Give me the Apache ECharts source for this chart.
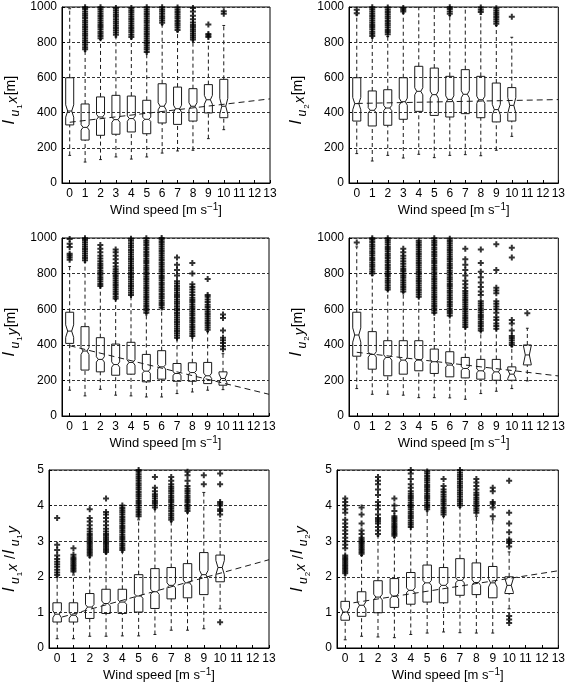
<!DOCTYPE html>
<html><head><meta charset="utf-8">
<script src="https://cdn.jsdelivr.net/npm/echarts@6/dist/echarts.min.js"></script>
<style>html,body{margin:0;padding:0;background:#fff}#c{width:568px;height:685px}</style>
</head><body><div id="c"></div>
<script>
// ---------- data ----------
const WIND_TICKS = [0,1,2,3,4,5,6,7,8,9,10,11,12,13];
const CATS_A = [0,1,2,3,4,5,6,7,8,9,10];
const CATS_B = [0,1,2,3,4,5,6,7,8,9,10,11];

// Panel 1: l_u1 x [m]
const P1_LOW   = [157,119,133,148,136,148,170,182,186,252,303];
const P1_Q1    = [330,244,271,277,290,280,341,333,352,398,371];
const P1_MED   = [409,316,375,360,366,362,436,422,436,473,436];
const P1_Q3    = [598,449,489,498,494,470,564,545,536,559,589];
const P1_HIGH  = [990,750,815,830,820,740,900,860,808,800,895];
const P1_NOTCH = [35,15,15,15,15,12,20,20,20,25,45];
const P1_OUT = [
  [],
  [760,772,785,798,810,823,836,848,861,874,886,899,912,924,937,950,962,975,988,998],
  [822,835,848,860,873,886,898,911,924,936,949,962,974,987,998],
  [842,855,868,880,893,906,918,931,944,956,969,982,994],
  [830,843,856,868,881,894,906,919,932,944,957,970,982,995],
  [745,758,770,783,796,808,821,834,846,859,872,884,897,910,922,935,948,960,973,986,998],
  [910,923,936,948,961,974,986,998],
  [870,883,896,908,921,934,946,959,972,984,997],
  [815,826,838,850,862,874,886,898,912,930,950,975,995],
  [830,838,846,900],
  [962,976]
];
const P1_FIT = [[0,345],[13,478]];

// Panel 2: l_u2 x [m]
const P2_LOW   = [167,125,157,142,163,144,157,161,155,186,265];
const P2_Q1    = [352,324,328,362,407,384,375,394,371,347,352];
const P2_MED   = [451,413,426,462,521,502,475,504,473,417,441];
const P2_Q3    = [598,523,530,598,663,653,606,644,606,568,542];
const P2_HIGH  = [955,825,832,965,1000,1000,952,1000,960,895,828];
const P2_NOTCH = [35,15,15,20,20,20,20,20,20,30,45];
const P2_OUT = [
  [965,985],
  [835,848,860,873,886,898,911,924,936,949,962,974,987,998],
  [845,858,870,883,896,908,921,934,946,959,972,984,997],
  [975,985,995],
  [],
  [],
  [962,975,988,998],
  [],
  [972,985,997],
  [905,918,930,943,956,968,980,993],
  [945]
];
const P2_FIT = [[0,452],[13,474]];

// Panel 3: l_u1 y [m]
const P3_LOW   = [145,113,150,117,113,107,107,126,135,145,148];
const P3_Q1    = [408,258,248,229,235,192,207,195,195,182,173];
const P3_MED   = [477,365,318,289,301,252,276,239,244,226,211];
const P3_Q3    = [583,502,440,404,414,346,367,295,299,301,248];
const P3_HIGH  = [840,865,725,655,675,575,605,435,445,475,350];
const P3_NOTCH = [35,20,15,15,15,12,12,10,10,15,25];
const P3_OUT = [
  [878,890,902,912,950,968,995],
  [875,888,900,913,926,938,951,964,976,989,998],
  [730,742,755,768,780,793,806,818,831,844,856,869,885,900,920,940,960],
  [660,672,685,698,710,723,736,748,761,774,786,799,812,825,840,860,880,900,920,935],
  [680,692,705,718,730,743,756,768,781,794,806,819,832,844,857,870,882,895,908,920,933,946,958,971,984,996],
  [580,593,605,618,631,643,656,669,681,694,707,719,732,745,757,770,783,795,808,821,833,846,859,871,884,897,909,922,935,947,960,973,985,998],
  [610,623,635,648,661,673,686,699,711,724,737,749,762,775,787,800,813,825,838,851,863,876,889,901,914,927,939,952,965,977,990,1000],
  [440,452,465,478,490,503,516,528,541,554,566,579,592,604,617,630,642,655,668,680,693,706,718,731,744,757,790,820,850,890],
  [450,462,475,488,500,513,526,538,551,564,576,589,602,614,627,640,652,665,680,695,710,725,740,800,860],
  [485,497,510,522,535,548,560,573,586,598,612,625,640,655,670,680,770],
  [375,392,410,425,440,480,550,570]
];
const P3_FIT = [[0,395],[13,122]];

// Panel 4: l_u2 y [m]
const P4_LOW   = [154,122,122,117,103,103,102,94,126,139,154,197];
const P4_Q1    = [336,263,226,235,254,239,220,214,207,201,201,287];
const P4_MED   = [455,346,329,314,314,305,286,267,254,248,235,343];
const P4_Q3    = [583,474,423,423,423,376,361,329,318,318,276,399];
const P4_HIGH  = [950,790,705,695,665,575,560,495,475,485,390,493];
const P4_NOTCH = [40,15,15,15,12,10,10,10,10,15,25,55];
const P4_OUT = [
  [975],
  [800,812,825,838,850,863,876,888,901,914,926,939,952,964,977,990,999],
  [710,722,735,748,760,773,786,798,811,824,836,849,862,874,887,900,912,925,938,950,963,976,988,998],
  [700,712,725,738,750,763,776,788,801,814,826,840,855,870,885,900,920,940],
  [670,682,695,708,720,733,746,758,771,784,796,809,822,834,847,860,872,885,898,910,923,936,948,961,974,984],
  [580,593,605,618,631,643,656,669,681,694,707,719,732,745,757,770,783,795,808,821,833,846,859,871,884,897,909,922,935,947,960,973,985,998],
  [565,578,590,603,616,628,641,654,666,679,692,704,717,730,742,755,768,780,793,806,818,831,844,856,869,882,894,907,920,932,945,958,970,983,996],
  [500,512,525,538,550,563,576,588,601,614,626,639,652,664,677,690,702,720,740,760,790,820,850,880,940],
  [480,492,505,518,530,543,556,568,581,594,606,619,632,645,680,700,725,750,780,810,860,935],
  [490,505,520,540,555,580,600,615,630,645,690,705,720,820,965],
  [400,412,425,438,450,480,520,540,890,945],
  [577]
];
const P4_FIT = [[0,358],[13,225]];

// Panel 5: l_u1 x / l_u1 y
const P5_LOW   = [0.26,0.26,0.33,0.33,0.34,0.34,0.38,0.50,0.50,0.54,1.10];
const P5_Q1    = [0.73,0.73,0.83,0.97,0.97,1.01,1.11,1.38,1.41,1.50,1.86];
const P5_MED   = [0.95,0.92,1.15,1.25,1.29,1.46,1.58,1.76,1.83,2.06,2.26];
const P5_Q3    = [1.27,1.27,1.53,1.65,1.65,2.06,2.23,2.26,2.37,2.68,2.61];
const P5_HIGH  = [2.00,2.05,2.55,2.65,2.70,3.60,3.90,3.55,3.80,4.37,3.60];
const P5_NOTCH = [0.10,0.08,0.07,0.07,0.06,0.06,0.07,0.07,0.08,0.12,0.20];
const P5_OUT = [
  [2.05,2.12,2.2,2.28,2.35,2.42,2.5,2.6,2.75,2.9,3.65],
  [2.15,2.2,2.25,2.3,2.35,2.4,2.45,2.5,2.55,2.62,2.8],
  [2.6,2.65,2.7,2.75,2.8,2.85,2.9,2.95,3.0,3.05,3.1,3.15,3.2,3.27,3.35,3.45,3.55,3.65,3.9],
  [2.7,2.75,2.8,2.85,2.9,2.95,3.0,3.05,3.1,3.15,3.2,3.27,3.35,3.45,3.55,3.65,3.75,3.82,4.2],
  [2.75,2.81,2.87,2.93,3.0,3.06,3.12,3.18,3.25,3.31,3.37,3.43,3.5,3.56,3.62,3.68,3.75,3.81,3.87,3.93,4.0],
  [3.7,3.76,3.82,3.88,3.95,4.01,4.07,4.13,4.2,4.26,4.32,4.38,4.45,4.51,4.57,4.63,4.7,4.76,4.82,4.88,4.95,5.0],
  [3.95,4.01,4.07,4.13,4.2,4.26,4.32,4.4,4.5,4.8],
  [3.6,3.66,3.72,3.78,3.85,3.91,3.97,4.03,4.1,4.16,4.22,4.28,4.35,4.41,4.47,4.53,4.6,4.7,4.8],
  [3.85,3.91,3.97,4.03,4.1,4.16,4.22,4.28,4.35,4.41,4.47,4.55,4.7,4.85,4.95],
  [4.6,4.85],
  [0.72,3.75,3.85,3.9,4.0,4.05,4.1,4.6,4.9]
];
const P5_FIT = [[0.3,0.87],[13,2.48]];

// Panel 6: l_u2 x / l_u2 y
const P6_LOW   = [0.23,0.33,0.31,0.29,0.38,0.42,0.45,0.43,0.42,0.42,1.10];
const P6_Q1    = [0.78,0.89,0.99,1.14,1.23,1.29,1.27,1.48,1.50,1.41,1.53];
const P6_MED   = [1.01,1.20,1.43,1.46,1.62,1.83,1.76,1.90,1.84,1.83,1.76];
const P6_Q3    = [1.31,1.58,1.89,1.95,2.12,2.33,2.26,2.51,2.39,2.29,2.00];
const P6_HIGH  = [2.05,2.60,3.15,3.10,3.40,3.85,3.70,3.95,3.70,3.60,2.70];
const P6_NOTCH = [0.12,0.10,0.08,0.08,0.07,0.07,0.07,0.07,0.08,0.12,0.20];
const P6_OUT = [
  [2.1,2.15,2.2,2.25,2.3,2.35,2.4,2.45,2.5,2.55,2.6,2.8,2.9,3.0,3.1,3.2,3.3,3.4,3.5,3.6,3.8,3.9,4.0,4.1,4.2],
  [2.65,2.7,2.75,2.8,2.85,2.9,2.95,3.0,3.05,3.1,3.2,3.3,3.5,3.75,3.95],
  [3.2,3.3,3.4,3.5,3.55,3.6,3.65,3.75,3.9,4.0,4.1,4.3,4.45,4.6,4.7,4.8],
  [3.15,3.2,3.25,3.3,3.35,3.4,3.45,3.5,3.55,3.6,3.65,3.7,3.85,4.0,4.2],
  [3.4,3.46,3.52,3.58,3.65,3.71,3.77,3.83,3.9,3.96,4.02,4.08,4.15,4.21,4.27,4.33,4.4,4.5,4.6,4.75,4.9,5.0],
  [3.9,3.96,4.02,4.08,4.15,4.21,4.27,4.33,4.4,4.46,4.52,4.58,4.65,4.71,4.77,4.83,4.9,4.96],
  [3.75,3.81,3.87,3.93,4.0,4.06,4.12,4.18,4.25,4.31,4.38,4.45,4.55,4.75],
  [4.0,4.06,4.12,4.18,4.25,4.31,4.37,4.43,4.5,4.56,4.62,4.68,4.75,4.81,4.87,4.93,5.0],
  [3.8,3.86,3.92,3.98,4.05,4.11,4.17,4.23,4.3,4.36,4.45,4.55,4.65,4.75],
  [3.7,3.95,4.05,4.1,4.4,4.5],
  [0.7,0.8,0.9,2.85,2.95,3.0,3.05,3.25,3.5,3.8,4.7]
];
const P6_FIT = [[0.5,1.27],[13,2.17]];

const Y_TICKS_LEN = [0,200,400,600,800,1000];
const Y_TICKS_RATIO = [0,1,2,3,4,5];

// ---------- panel definitions ----------
const PANELS = [
  {cats:CATS_A, low:P1_LOW, q1:P1_Q1, med:P1_MED, q3:P1_Q3, high:P1_HIGH, notch:P1_NOTCH, out:P1_OUT, fit:P1_FIT, yt:Y_TICKS_LEN,
   name:'{l|l}{s|u}{ss|1}{x|x}{b|[m]}'},
  {cats:CATS_A, low:P2_LOW, q1:P2_Q1, med:P2_MED, q3:P2_Q3, high:P2_HIGH, notch:P2_NOTCH, out:P2_OUT, fit:P2_FIT, yt:Y_TICKS_LEN,
   name:'{l|l}{s|u}{ss|2}{x|x}{b|[m]}'},
  {cats:CATS_A, low:P3_LOW, q1:P3_Q1, med:P3_MED, q3:P3_Q3, high:P3_HIGH, notch:P3_NOTCH, out:P3_OUT, fit:P3_FIT, yt:Y_TICKS_LEN,
   name:'{l|l}{s|u}{ss|1}{x|y}{b|[m]}'},
  {cats:CATS_B, low:P4_LOW, q1:P4_Q1, med:P4_MED, q3:P4_Q3, high:P4_HIGH, notch:P4_NOTCH, out:P4_OUT, fit:P4_FIT, yt:Y_TICKS_LEN,
   name:'{l|l}{s|u}{ss|2}{x|y}{b|[m]}'},
  {cats:CATS_A, low:P5_LOW, q1:P5_Q1, med:P5_MED, q3:P5_Q3, high:P5_HIGH, notch:P5_NOTCH, out:P5_OUT, fit:P5_FIT, yt:Y_TICKS_RATIO,
   name:'{l|l}{s|u}{ss|1}{x|x}{sl| /}{l|l}{s|u}{ss|1}{x|y}'},
  {cats:CATS_A, low:P6_LOW, q1:P6_Q1, med:P6_MED, q3:P6_Q3, high:P6_HIGH, notch:P6_NOTCH, out:P6_OUT, fit:P6_FIT, yt:Y_TICKS_RATIO,
   name:'{l|l}{s|u}{ss|2}{x|x}{sl| /}{l|l}{s|u}{ss|2}{x|y}'}
];

// layout (pixels)
const LAYOUT = [
  {left:59,  top:7,   width:211, height:176, gap:38, xgap:17},
  {left:349, top:7,   width:210, height:176, gap:38, xgap:17},
  {left:59,  top:238, width:210, height:178, gap:38, xgap:16},
  {left:349, top:238, width:210, height:178, gap:38, xgap:16},
  {left:46,  top:470, width:223, height:178, gap:25, xgap:12},
  {left:337, top:470, width:222, height:178, gap:25, xgap:12}
];

const FONT = 'Liberation Sans';
const INK = '#1a1a1a';

const nameRich = {
  l:  {fontFamily:FONT, fontSize:17, fontStyle:'italic', lineHeight:18, padding:[0,0,6,0], verticalAlign:'bottom', color:'#000'},
  s:  {fontFamily:FONT, fontSize:12, fontStyle:'italic', lineHeight:12, padding:[0,0,2,4], verticalAlign:'bottom', color:'#000'},
  ss: {fontFamily:FONT, fontSize:8,  lineHeight:8, padding:[0,0,0,1], verticalAlign:'bottom', color:'#000'},
  x:  {fontFamily:FONT, fontSize:14, fontStyle:'italic', lineHeight:14, padding:[0,0,4,1], verticalAlign:'bottom', color:'#000'},
  b:  {fontFamily:FONT, fontSize:14, lineHeight:16, padding:[0,10,6,1], verticalAlign:'bottom', color:'#000'},
  sl: {fontFamily:FONT, fontSize:14, lineHeight:16, padding:[0,1,6,1], verticalAlign:'bottom', color:'#000'}
};
const xNameRich = {
  t:  {fontFamily:FONT, fontSize:13, lineHeight:15, padding:[3,0,0,0], verticalAlign:'bottom', color:'#000'},
  sp: {fontFamily:FONT, fontSize:10, lineHeight:10, verticalAlign:'top', color:'#000'}
};

function renderBox(params, api) {
  const x = api.value(0), lo = api.value(1), q1 = api.value(2), md = api.value(3),
        q3 = api.value(4), hi = api.value(5), nt = api.value(6);
  const hw = 0.26, nw = 0.13, cw = 0.09;
  const c = (a, b) => api.coord([a, b]);
  const solid = {stroke:INK, lineWidth:1, fill:'none'};
  const dashed = {stroke:INK, lineWidth:1, lineDash:[4,3], fill:'none'};
  const seg = (p, q, st) => ({type:'line', shape:{x1:p[0], y1:p[1], x2:q[0], y2:q[1]}, style:st});
  const poly = [c(x-hw,q1), c(x+hw,q1), c(x+hw,md-nt), c(x+nw,md), c(x+hw,md+nt),
                c(x+hw,q3), c(x-hw,q3), c(x-hw,md+nt), c(x-nw,md), c(x-hw,md-nt)];
  return {type:'group', children:[
    seg(c(x,lo), c(x,q1), dashed),
    seg(c(x,q3), c(x,hi), dashed),
    seg(c(x-cw,lo), c(x+cw,lo), solid),
    seg(c(x-cw,hi), c(x+cw,hi), solid),
    {type:'polygon', shape:{points:poly}, style:{stroke:INK, lineWidth:1, fill:'none'}},
    seg(c(x-nw,md), c(x+nw,md), solid)
  ]};
}

const grid = [], xAxis = [], yAxis = [], series = [];
PANELS.forEach((p, i) => {
  const L = LAYOUT[i];
  grid.push({left:L.left, top:L.top, width:L.width, height:L.height, show:true,
             borderColor:'#000', borderWidth:1, containLabel:false});
  xAxis.push({
    type:'value', gridIndex:i, min:-0.5, max:13,
    name:'{t|Wind speed [m s}{sp|\u22121}{t|]}', nameLocation:'middle', nameGap:L.xgap,
    nameTextStyle:{rich:xNameRich},
    axisLine:{show:true, onZero:false, lineStyle:{color:'#000', width:1}},
    axisTick:{show:true, inside:true, length:3, customValues:WIND_TICKS, lineStyle:{color:'#000'}},
    axisLabel:{show:true, customValues:WIND_TICKS, margin:5, color:'#000', fontFamily:FONT, fontSize:12},
    splitLine:{show:false}
  });
  const ymax = p.yt[p.yt.length-1];
  yAxis.push({
    type:'value', gridIndex:i, min:0, max:ymax, interval:p.yt[1]-p.yt[0],
    name:p.name, nameLocation:'middle', nameRotate:90, nameGap:L.gap,
    nameTextStyle:{rich:nameRich},
    axisLine:{show:true, onZero:false, lineStyle:{color:'#000', width:1}},
    axisTick:{show:true, inside:true, length:3, lineStyle:{color:'#000'}},
    axisLabel:{margin:5, color:'#000', fontFamily:FONT, fontSize:12, formatter:(v) => String(v)},
    splitLine:{show:true, lineStyle:{color:'#333', width:1, type:[3,2]}}
  });
  series.push({
    type:'custom', xAxisIndex:i, yAxisIndex:i, renderItem:renderBox, clip:true,
    encode:{x:0, y:[1,2,3,4,5]},
    data:p.cats.map((c, k) => [c, p.low[k], p.q1[k], p.med[k], p.q3[k], p.high[k], p.notch[k]]),
    z:3, silent:true
  });
  const pts = [];
  p.out.forEach((arr, k) => arr.forEach(v => pts.push([p.cats[k], v])));
  series.push({
    type:'scatter', xAxisIndex:i, yAxisIndex:i, data:pts,
    symbol:'path://M2,0H4V2H6V4H4V6H2V4H0V2H2Z', symbolSize:6,
    itemStyle:{color:'#000'}, z:4, silent:true, clip:true
  });
  series.push({
    type:'line', xAxisIndex:i, yAxisIndex:i, data:p.fit, symbol:'none',
    lineStyle:{color:INK, width:1, type:[6,4]}, z:2, silent:true
  });
});

const chart = echarts.init(document.getElementById('c'), null, {renderer:'canvas'});
chart.setOption({animation:false, backgroundColor:'#fff', grid, xAxis, yAxis, series});
</script>
</body></html>
